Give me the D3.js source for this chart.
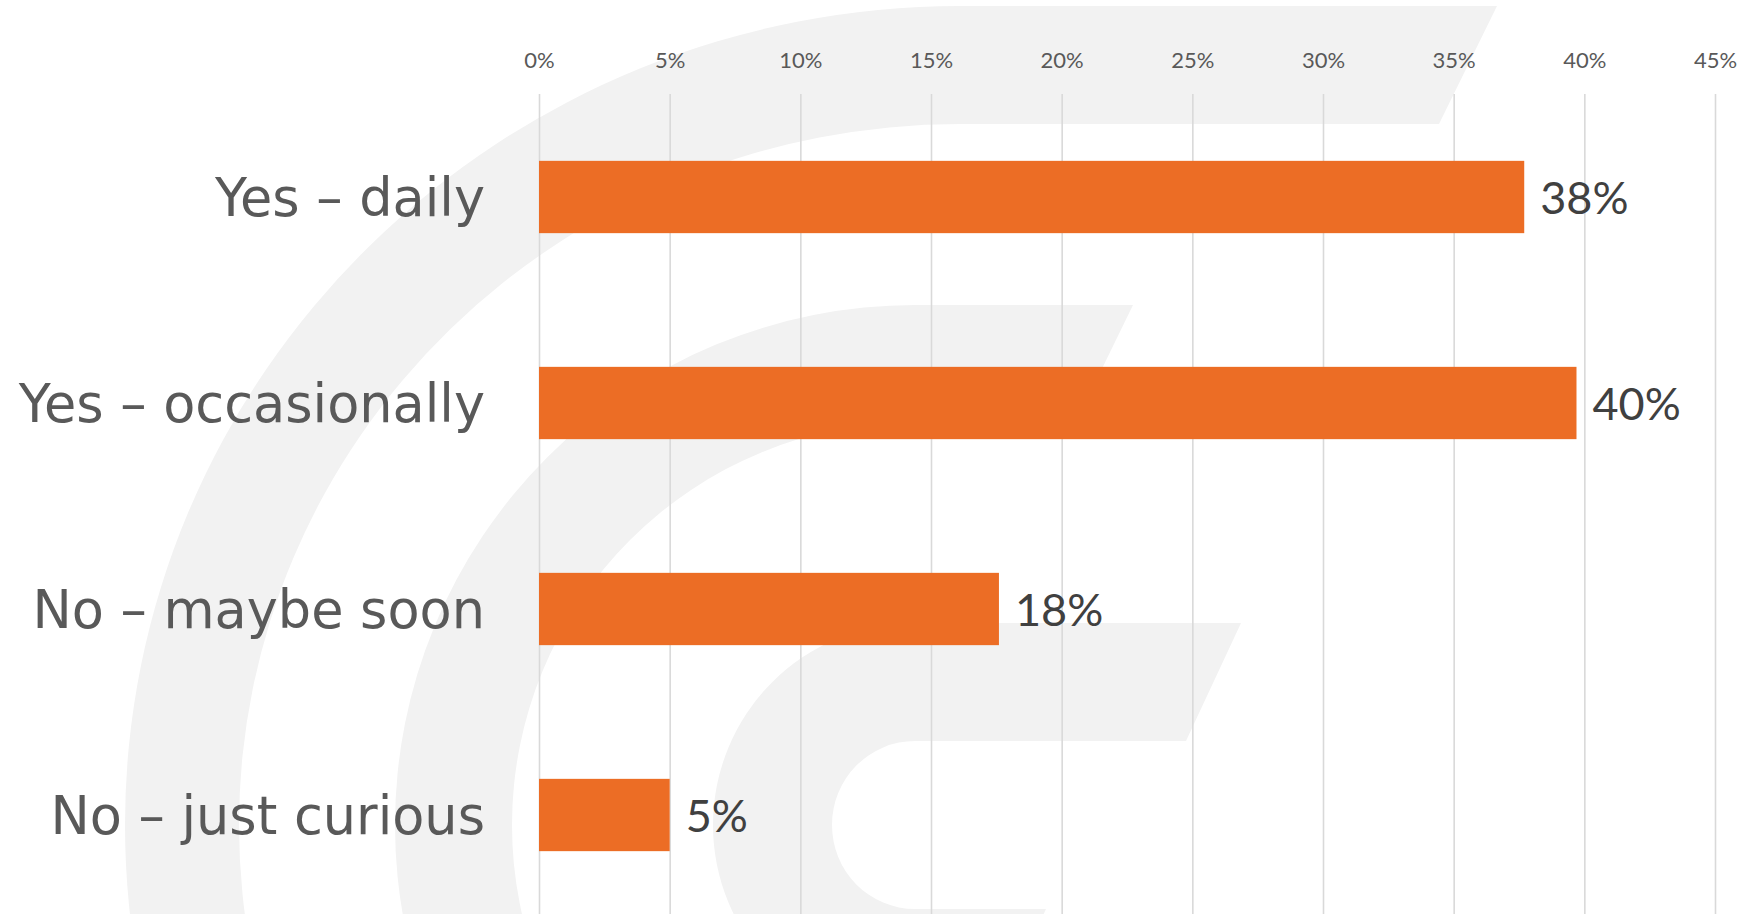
<!DOCTYPE html>
<html>
<head>
<meta charset="utf-8">
<script src="https://cdn.jsdelivr.net/npm/d3@7"></script>
<style>
  body { margin: 0; background: #fff; }
  .grid .domain { display: none; }
  .grid line { stroke: #d9d9d9; stroke-width: 1.6px; }
  .grid text { font-family: Lato, sans-serif; font-size: 22px; fill: #595959; }
  .cats .domain { display: none; }
  .cats text { font-family: "DejaVu Sans", sans-serif; font-size: 52.5px; fill: #595959; }
  .val { font-family: Lato, sans-serif; font-size: 45px; fill: #404040; }
</style>
</head>
<body>
<svg id="chart" width="1747" height="914"></svg>
<script>
var categories = ["Yes \u2013 daily", "Yes \u2013 occasionally", "No \u2013 maybe soon", "No \u2013 just curious"];
var values = [37.7, 39.7, 17.6, 5.0];
var valueLabels = ["38%", "40%", "18%", "5%"];
var tickValues = [0, 5, 10, 15, 20, 25, 30, 35, 40, 45];
var tickLabels = ["0%", "5%", "10%", "15%", "20%", "25%", "30%", "35%", "40%", "45%"];

function init() {
  var svg = d3.select("#chart");

  var margin = {left: 539, right: 32, top: 94, bottom: -4};
  var width = 1747 - margin.left - margin.right,
      height = 914 - margin.top - margin.bottom;

  // background logo (light grey rings)
  var logo = svg.append("g").attr("fill", "#f2f2f2");
  function ring(cx, cy, rxO, ryO, rxI, ryI, armX, slant, botArmX) {
    var p = "M" + armX + "," + (cy - ryO) +
      "L" + cx + "," + (cy - ryO) +
      "A" + rxO + "," + ryO + " 0 0 0 " + (cx - rxO) + "," + cy +
      "A" + rxO + "," + ryO + " 0 0 0 " + cx + "," + (cy + ryO);
    if (botArmX) {
      p += "L" + (botArmX - slant) + "," + (cy + ryO) +
           "L" + botArmX + "," + (cy + ryI);
    }
    p += "L" + cx + "," + (cy + ryI) +
      "A" + rxI + "," + ryI + " 0 0 1 " + (cx - rxI) + "," + cy +
      "A" + rxI + "," + ryI + " 0 0 1 " + cx + "," + (cy - ryI) +
      "L" + (armX - slant) + "," + (cy - ryI) + "Z";
    logo.append("path").attr("d", p);
  }
  ring(960, 825, 835, 819, 721, 701, 1497, 58);
  ring(915, 825, 520, 520, 403, 403, 1133, 57);
  ring(915, 825, 202, 202, 83, 84, 1241, 55, 1046);

  var g = svg.append("g")
      .attr("transform", "translate(" + margin.left + "," + margin.top + ")");

  var x = d3.scaleLinear().domain([0, 45]).range([0, width]);
  var y = d3.scaleBand().domain(categories).range([0, height])
      .paddingInner(0.649).paddingOuter(0.3245);

  // gridlines + top tick labels
  g.append("g")
      .attr("class", "grid")
      .call(d3.axisTop(x)
        .tickValues(tickValues)
        .tickFormat(function (d, i) { return tickLabels[i]; })
        .tickSize(-(914 - margin.top))
        .tickPadding(26));

  // bars
  g.selectAll(".bar")
      .data(values)
      .enter().append("rect")
      .attr("class", "bar")
      .attr("x", x(0))
      .attr("y", function (d, i) { return y(categories[i]); })
      .attr("width", function (d) { return x(d) - x(0); })
      .attr("height", y.bandwidth())
      .attr("fill", "#ec6d25");

  // value labels
  g.selectAll(".val")
      .data(values)
      .enter().append("text")
      .attr("class", "val")
      .attr("x", function (d) { return x(d) + 16; })
      .attr("y", function (d, i) { return y(categories[i]) + y.bandwidth() / 2; })
      .attr("dy", "0.38em")
      .text(function (d, i) { return valueLabels[i]; });

  // category labels
  var cats = g.append("g")
      .attr("class", "cats")
      .call(d3.axisLeft(y).tickSize(0).tickPadding(54));
  cats.selectAll("text").attr("dy", "0.36em");
}

window.onload = init;
</script>
</body>
</html>
